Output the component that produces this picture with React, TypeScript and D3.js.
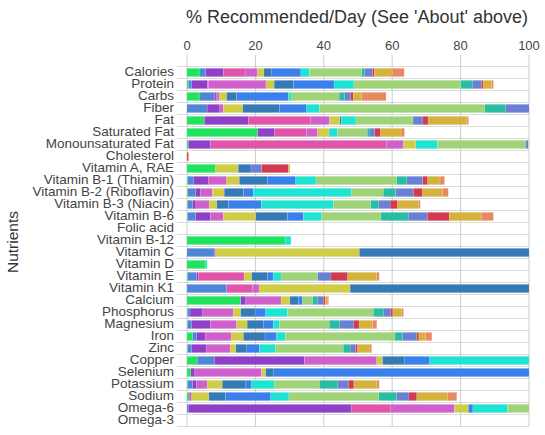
import React, { useEffect, useRef } from "react";
import * as d3 from "d3";

const nutrients = [
    "Calories", "Protein", "Carbs", "Fiber", "Fat", "Saturated Fat", "Monounsaturated Fat",
    "Cholesterol", "Vitamin A, RAE", "Vitamin B-1 (Thiamin)", "Vitamin B-2 (Riboflavin)",
    "Vitamin B-3 (Niacin)", "Vitamin B-6", "Folic acid", "Vitamin B-12", "Vitamin C",
    "Vitamin D", "Vitamin E", "Vitamin K1", "Calcium", "Phosphorus", "Magnesium", "Iron",
    "Zinc", "Copper", "Selenium", "Potassium", "Sodium", "Omega-6", "Omega-3",
];

const ticks = [0, 20, 40, 60, 80, 100];

// one array per food, one value per nutrient (% of daily recommendation)
const food1 = [3.8, 0.4, 3.8, 0, 5.1, 20.7, 0.4, 0, 8.4, 0.2, 0.2, 0.2, 0.2, 0, 28.7, 0, 5.5, 0.2, 0, 15.7, 0.2, 0.2, 1.7, 0.2, 3.0, 1.1, 0.2, 0.6, 0, 0];
const food2 = [1.7, 1.0, 4.2, 5.9, 0, 0, 0, 0, 0, 1.8, 2.3, 1.5, 2.3, 0, 0, 7.9, 0, 2.6, 11.6, 0, 0.7, 1.2, 1.1, 1.2, 5.0, 0, 1.5, 0, 0.4, 0];
const food3 = [5.1, 4.6, 0.5, 3.7, 12.8, 4.8, 6.5, 0, 0, 4.2, 1.5, 0.9, 4.4, 0, 0, 0, 0, 0.5, 0, 1.5, 3.7, 5.5, 2.5, 4.2, 26.3, 1.2, 1.1, 0, 47.6, 0];
const food4 = [6.4, 0.3, 0.3, 0, 18.3, 9.5, 51.5, 0, 0, 0, 0, 0, 0, 0, 0, 0, 0, 13.5, 7.5, 0, 0, 0, 0, 0, 0, 0, 0, 0, 11.6, 0];
const food5 = [3.6, 16.8, 0.7, 1.0, 5.4, 3.2, 4.9, 0, 0, 5.4, 3.4, 3.9, 3.7, 0, 0, 0.5, 0, 0, 2.0, 10.3, 8.9, 7.6, 7.6, 7.0, 21.2, 19.5, 3.1, 0.8, 18.6, 0];
const food6 = [1.9, 2.4, 2.1, 5.7, 3.1, 3.3, 3.6, 0, 6.6, 3.7, 3.5, 2.2, 9.5, 0, 0, 42.0, 0, 2.1, 26.6, 2.6, 2.2, 3.1, 3.6, 1.7, 1.7, 1.2, 4.4, 5.0, 4.1, 0];
const food7 = [2.3, 5.6, 2.9, 10.7, 0.4, 0.2, 0, 0, 3.7, 8.3, 5.6, 3.4, 9.3, 0, 0, 49.6, 0, 4.6, 52.3, 2.5, 4.2, 4.7, 6.3, 3.0, 6.3, 2.2, 6.7, 4.9, 0, 0];
const food8 = [8.5, 11.9, 15.1, 8.0, 0, 0, 0, 0, 0, 8.2, 2.9, 9.7, 4.6, 0, 0, 0, 0, 1.7, 0, 1.2, 3.1, 2.9, 3.4, 3.9, 7.5, 74.8, 1.9, 13.2, 1.3, 0];
const food9 = [2.5, 5.8, 0.8, 3.7, 4.3, 2.3, 6.3, 0, 0, 5.9, 28.6, 21.0, 5.4, 0, 1.7, 0, 0.4, 2.3, 0, 0, 6.4, 1.8, 2.6, 4.7, 29.0, 0, 6.6, 5.3, 10.1, 0];
const food10 = [15.3, 31.3, 14.1, 48.4, 16.7, 8.7, 25.9, 0, 0, 23.6, 9.4, 10.9, 17.3, 0, 0, 0, 0, 10.7, 0, 2.9, 25.1, 14.6, 32.0, 19.8, 0, 0, 13.2, 26.3, 6.3, 0];
const food11 = [0.9, 3.3, 1.5, 6.0, 0, 0.8, 0, 0, 0, 3.0, 3.6, 2.4, 8.0, 0, 0, 0, 0, 0, 0, 1.4, 2.9, 3.1, 2.2, 2.0, 0, 0, 5.4, 5.2, 0, 0];
const food12 = [2.2, 2.7, 1.9, 7.5, 2.9, 1.4, 0.7, 0, 3.1, 4.6, 5.2, 3.3, 5.6, 0, 0, 0, 0, 3.9, 0, 1.8, 2.2, 4.1, 4.2, 1.6, 0, 0, 3.1, 3.6, 0, 0];
const food13 = [0.6, 0.6, 0.7, 0, 1.5, 1.7, 0, 0.4, 7.8, 1.5, 2.7, 2.2, 6.4, 0, 0, 0, 0, 4.9, 0, 0.5, 0.6, 1.5, 0.6, 0.6, 0, 0, 1.6, 2.3, 0, 0];
const food14 = [5.2, 2.3, 2.5, 0, 11.3, 6.0, 0, 0, 0.5, 3.6, 5.8, 6.2, 9.4, 0, 0, 0, 0, 8.5, 0, 0.6, 2.6, 3.9, 2.0, 3.6, 0, 0, 6.7, 8.9, 0, 0];
const food15 = [3.5, 0.6, 7.1, 0, 0.5, 1.0, 0, 0.2, 0, 1.3, 1.7, 0.4, 3.5, 0, 0, 0, 0, 0.7, 0, 0.4, 0.5, 1.3, 1.8, 0.5, 0, 0, 0.7, 2.8, 0, 0];

const foods = [food1, food2, food3, food4, food5, food6, food7, food8, food9, food10, food11, food12, food13, food14, food15];
const foodKeys = foods.map((_, i) => `food${i + 1}`);

const colors = [
    "#21e35d", "#4f86d6", "#8e40c8", "#e055a9", "#cf60cb", "#cfcd48", "#3579b5", "#3a80ea",
    "#1de4d2", "#9ed477", "#28bca1", "#6a80d4", "#d03b50", "#d5b13d", "#e88a60",
];

type Row = { [key: string]: number | string };

const App = () => {
    const ref = useRef<SVGSVGElement>(null);

    useEffect(() => {
        const width = 545, height = 435;
        const left = 187, right = 529, top = 66.5, bottom = 426.5;

        const rows: Row[] = nutrients.map((n, i) => {
            const row: Row = { nutrient: n };
            foodKeys.forEach((k, j) => { row[k] = foods[j][i]; });
            return row;
        });

        const x = d3.scaleLinear().domain([0, 100]).range([left, right]);
        const y = d3.scaleBand<string>()
            .domain(nutrients)
            .range([top, bottom])
            .paddingInner(0.3)
            .paddingOuter(0.15);
        const color = d3.scaleOrdinal<string, string>().domain(foodKeys).range(colors);

        const series = d3.stack<Row, string>()
            .keys(foodKeys)
            .value((d, k) => d[k] as number)(rows);

        const svg = d3.select(ref.current)
            .attr("width", width)
            .attr("height", height)
            .style("font-family", "'Liberation Sans', Arial, sans-serif");
        svg.selectAll("*").remove();

        svg.append("defs").append("clipPath").attr("id", "plot-clip")
            .append("rect")
            .attr("x", left).attr("y", 0)
            .attr("width", right - left).attr("height", height);

        // row separators, extending left as the axis ticks
        const step = y.step();
        const lines = d3.range(nutrients.length + 1).map(i => top + step * i);
        svg.append("g").selectAll("line")
            .data(lines)
            .enter().append("line")
            .attr("x1", left - 10).attr("x2", right)
            .attr("y1", d => d).attr("y2", d => d)
            .attr("stroke", "#dcdcdc")
            .attr("stroke-width", 1);

        // vertical grid
        svg.append("g").selectAll("line")
            .data(ticks)
            .enter().append("line")
            .attr("x1", d => x(d)).attr("x2", d => x(d))
            .attr("y1", 55).attr("y2", bottom)
            .attr("stroke", "#cccccc")
            .attr("stroke-width", 1);

        svg.append("g").selectAll("text")
            .data(ticks)
            .enter().append("text")
            .attr("x", d => x(d))
            .attr("y", 47)
            .attr("text-anchor", "middle")
            .attr("dominant-baseline", "middle")
            .attr("font-size", 13)
            .attr("fill", "#444")
            .text(d => d);

        const groups = svg.append("g")
            .attr("clip-path", "url(#plot-clip)")
            .selectAll("g")
            .data(series)
            .enter().append("g")
            .attr("fill", d => color(d.key));

        groups.selectAll("rect")
            .data(d => d.filter(p => p[1] - p[0] > 0))
            .enter().append("rect")
            .attr("x", d => x(d[0]))
            .attr("y", d => y(d.data.nutrient as string) ?? 0)
            .attr("width", d => Math.max(0, x(d[1]) - x(d[0])))
            .attr("height", y.bandwidth())
            .attr("stroke", "#ffffff")
            .attr("stroke-opacity", 0.25)
            .attr("stroke-width", 0.5);

        svg.append("g").selectAll("text")
            .data(nutrients)
            .enter().append("text")
            .attr("x", 174)
            .attr("y", d => (y(d) ?? 0) + y.bandwidth() / 2)
            .attr("text-anchor", "end")
            .attr("dominant-baseline", "middle")
            .attr("font-size", 13.5)
            .attr("fill", "#444")
            .text(d => d);

        svg.append("text")
            .attr("x", 357)
            .attr("y", 18)
            .attr("text-anchor", "middle")
            .attr("dominant-baseline", "middle")
            .attr("font-size", 18)
            .attr("fill", "#333")
            .text("% Recommended/Day (See 'About' above)");

        svg.append("text")
            .attr("transform", "translate(14,242) rotate(-90)")
            .attr("text-anchor", "middle")
            .attr("dominant-baseline", "middle")
            .attr("font-size", 15.5)
            .attr("fill", "#333")
            .text("Nutrients");
    }, []);

    return <div style={{ position: "absolute", left: 0, top: 0, background: "#fff" }}>
        <svg ref={ref}></svg>
    </div>;
};

export default App;
